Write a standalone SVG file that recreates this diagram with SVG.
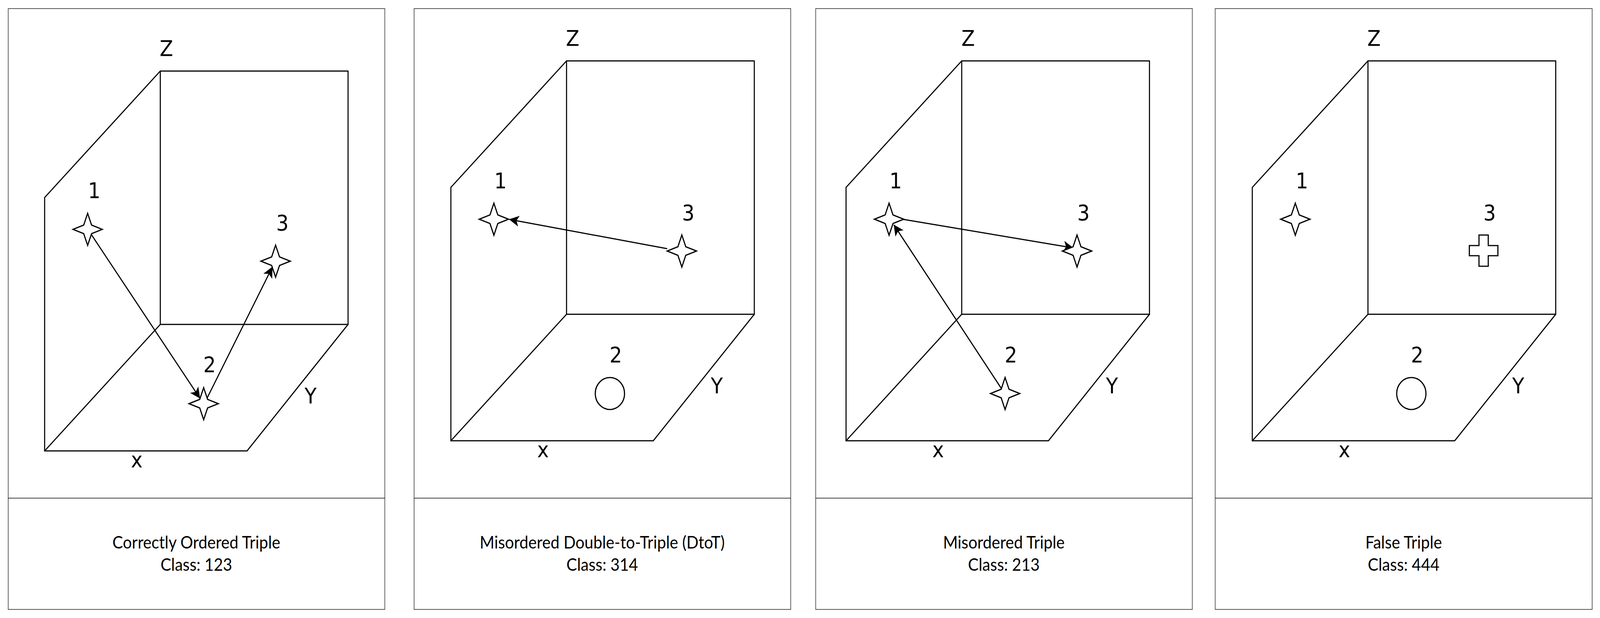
<svg xmlns="http://www.w3.org/2000/svg" xmlns:xlink="http://www.w3.org/1999/xlink" width="4482" height="1583" viewBox="0 0 4482 1583" preserveAspectRatio="none">
<style>
svg{width:100vw;height:100vh;display:block}
.frame{fill:none;stroke:#555;stroke-width:2}
.div{stroke:#000;stroke-width:1.6}
.cube{fill:none;stroke:#000;stroke-width:3;stroke-linecap:round;stroke-linejoin:round}
.sym{fill:#fff;stroke:#000;stroke-width:3.2;stroke-linejoin:miter;stroke-miterlimit:10}
.lbl{font-family:"DejaVu Sans",sans-serif;font-size:55px;fill:#000;text-anchor:middle}
.cap{font-family:Lato,"Liberation Sans",sans-serif;font-size:44.5px;fill:#000;text-anchor:middle}
.arrow{fill:none;stroke:#000;stroke-width:3;marker-end:url(#ah)}
</style>
<defs>
<marker id="ah" markerUnits="userSpaceOnUse" viewBox="0 0 28 28" refX="27" refY="14" markerWidth="28" markerHeight="28" orient="auto">
<path d="M0,0 L28,14 L0,28 L7,14 Z" fill="#000"/>
</marker>
<path id="star" d="M0,-41 L11,-11 L41,0 L11,11 L0,41 L-11,11 L-41,0 L-11,-11 Z"/>
<path id="cross" d="M-13,-40 H13 V-13 H40 V13 H13 V40 H-13 V13 H-40 V-13 H-13 Z"/>
</defs>
<rect width="4482" height="1583" fill="#fff"/>

<!-- Panel 1 -->
<g id="panel1">
<rect class="frame" x="23" y="22" width="1055" height="1539"/>
<line class="div" x1="23" y1="1276" x2="1078" y2="1276"/>
<g id="cube1" class="cube">
<rect x="449" y="182" width="526" height="649"/>
<polyline points="449,182 125,506 125,1155 692,1155 975,831"/>
<line x1="125" y1="1155" x2="449" y2="831"/>
</g>
<text class="lbl" x="466" y="143">Z</text>
<text class="lbl" x="870" y="1033">Y</text>
<text class="lbl" x="383" y="1197">x</text>
<text class="cap" x="550" y="1405">Correctly Ordered Triple</text>
<text class="cap" x="550" y="1462">Class: 123</text>
</g>

<!-- Panel 2 -->
<g id="panel2">
<rect class="frame" x="1160" y="22" width="1055" height="1539"/>
<line class="div" x1="1160" y1="1276" x2="2215" y2="1276"/>
<g id="cube2" class="cube">
<rect x="1587" y="156" width="526" height="649"/>
<polyline points="1587,156 1263,480 1263,1129 1830,1129 2113,805"/>
<line x1="1263" y1="1129" x2="1587" y2="805"/>
</g>
<text class="lbl" x="1604" y="117">Z</text>
<text class="lbl" x="2008" y="1007">Y</text>
<text class="lbl" x="1521" y="1171">x</text>
<text class="cap" x="1687" y="1405">Misordered Double-to-Triple (DtoT)</text>
<text class="cap" x="1687" y="1462">Class: 314</text>
</g>

<!-- Panel 3 -->
<g id="panel3">
<rect class="frame" x="2285" y="22" width="1055" height="1539"/>
<line class="div" x1="2285" y1="1276" x2="3340" y2="1276"/>
<g id="cube3" class="cube">
<rect x="2694" y="156" width="526" height="649"/>
<polyline points="2694,156 2370,480 2370,1129 2937,1129 3220,805"/>
<line x1="2370" y1="1129" x2="2694" y2="805"/>
</g>
<text class="lbl" x="2712" y="117">Z</text>
<text class="lbl" x="3115" y="1007">Y</text>
<text class="lbl" x="2628" y="1171">x</text>
<text class="cap" x="2812" y="1405">Misordered Triple</text>
<text class="cap" x="2812" y="1462">Class: 213</text>
</g>

<!-- Panel 4 -->
<g id="panel4">
<rect class="frame" x="3404" y="22" width="1056" height="1539"/>
<line class="div" x1="3404" y1="1276" x2="4460" y2="1276"/>
<g id="cube4" class="cube">
<rect x="3832" y="156" width="526" height="649"/>
<polyline points="3832,156 3508,480 3508,1129 4075,1129 4358,805"/>
<line x1="3508" y1="1129" x2="3832" y2="805"/>
</g>
<text class="lbl" x="3849" y="117">Z</text>
<text class="lbl" x="4253" y="1007">Y</text>
<text class="lbl" x="3766" y="1171">x</text>
<text class="cap" x="3932" y="1405">False Triple</text>
<text class="cap" x="3932" y="1462">Class: 444</text>
</g>

<!-- Connectors -->
<g id="connectors">
<line class="arrow" x1="256" y1="601" x2="560" y2="1020"/>
<line class="arrow" x1="580" y1="1020" x2="763" y2="684"/>
<line class="arrow" x1="1869" y1="637" x2="1427" y2="562"/>
<line class="arrow" x1="2531" y1="562" x2="3006" y2="635"/>
<line class="arrow" x1="2805" y1="995" x2="2504" y2="576"/>
</g>

<!-- Nodes -->
<g id="p1-n1"><use xlink:href="#star" class="sym" x="245.5" y="587.5"/><text class="lbl" x="264" y="507">1</text></g>
<g id="p1-n2"><use xlink:href="#star" class="sym" x="570.5" y="1034"/><text class="lbl" x="587" y="953">2</text></g>
<g id="p1-n3"><use xlink:href="#star" class="sym" x="772" y="669"/><text class="lbl" x="791" y="590">3</text></g>

<g id="p2-n1"><use xlink:href="#star" class="sym" x="1383.5" y="561.5"/><text class="lbl" x="1402" y="482">1</text></g>
<g id="p2-n2"><circle class="sym" cx="1708.5" cy="1008" r="41"/><text class="lbl" x="1725" y="928">2</text></g>
<g id="p2-n3"><use xlink:href="#star" class="sym" x="1910" y="643"/><text class="lbl" x="1928" y="564">3</text></g>

<g id="p3-n1"><use xlink:href="#star" class="sym" x="2490.5" y="561.5"/><text class="lbl" x="2509" y="482">1</text></g>
<g id="p3-n2"><use xlink:href="#star" class="sym" x="2815.5" y="1008"/><text class="lbl" x="2832" y="928">2</text></g>
<g id="p3-n3"><use xlink:href="#star" class="sym" x="3017" y="643"/><text class="lbl" x="3035" y="564">3</text></g>

<g id="p4-n1"><use xlink:href="#star" class="sym" x="3628.5" y="561.5"/><text class="lbl" x="3647" y="482">1</text></g>
<g id="p4-n2"><circle class="sym" cx="3953.5" cy="1008" r="41"/><text class="lbl" x="3970" y="928">2</text></g>
<g id="p4-n3"><use xlink:href="#cross" class="sym" x="4156" y="642"/><text class="lbl" x="4173" y="564">3</text></g>
</svg>
